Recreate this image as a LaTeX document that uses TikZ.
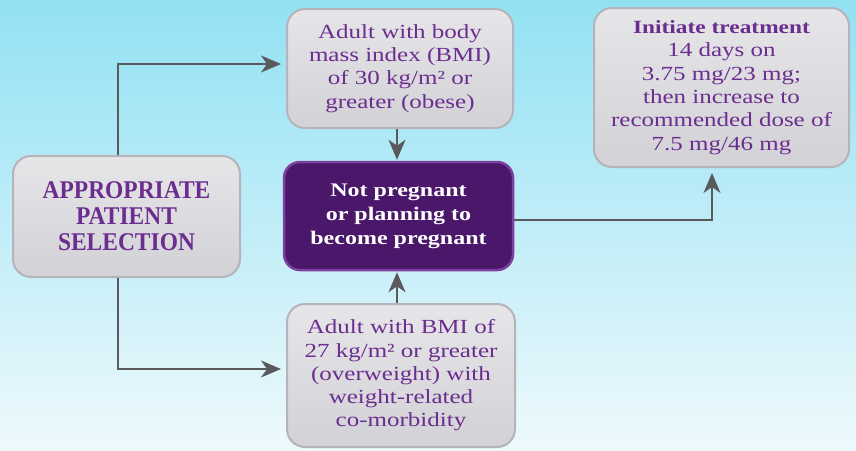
\documentclass[tikz,border=0pt]{standalone}
\usepackage{fontspec}
\setmainfont[FakeStretch=1.25]{Liberation Serif}
\newfontfamily\capsfont[FakeStretch=0.92]{Liberation Serif}
\usetikzlibrary{arrows.meta}
\definecolor{bgtop}{HTML}{92E1F3}
\definecolor{bgbot}{HTML}{EEF9FC}
\definecolor{txtpurple}{HTML}{6B2D8F}
\definecolor{boxborder}{HTML}{B4B4BA}
\definecolor{boxtop}{HTML}{E6E6E9}
\definecolor{boxbot}{HTML}{D2D2D6}
\definecolor{darkfill}{HTML}{4A176B}
\definecolor{darkborder}{HTML}{7D3FA0}
\definecolor{arrowgray}{HTML}{5A5A5C}
\tikzset{
  graybox/.style={draw=boxborder, line width=2pt, rounded corners=18pt,
    top color=boxtop, bottom color=boxbot, text=txtpurple, align=center,
    inner sep=0pt, font=\fontsize{20}{23.3}\selectfont},
  darkbox/.style={draw=darkborder, line width=2.5pt, rounded corners=16pt,
    fill=darkfill, text=white, align=center, inner sep=0pt,
    font=\fontsize{19.2}{24}\selectfont\bfseries},
  conn/.style={draw=arrowgray, line width=2pt,
    -{Stealth[length=20pt,width=17pt,inset=6pt]}}
}
\begin{document}
\begin{tikzpicture}[x=1pt,y=-1pt]
\shade[top color=bgtop, bottom color=bgbot] (0,0) rectangle (856,450);
\useasboundingbox (0,0) rectangle (856,450);

\node[graybox, minimum width=226pt, minimum height=119pt] (obese) at (400,68.5)
  {Adult with body\\mass index (BMI)\\of 30 kg/m² or\\greater (obese)};
\node[graybox, minimum width=227pt, minimum height=121pt,
  font=\capsfont\fontsize{25.5}{26}\selectfont\bfseries] (sel) at (126.5,216.5)
  {APPROPRIATE\\PATIENT\\SELECTION};
\node[darkbox, minimum width=229pt, minimum height=108pt] (preg) at (398.5,216)
  {Not pregnant\\or planning to\\become pregnant};
\node[graybox, minimum width=255pt, minimum height=159pt] (init) at (721.5,87.5)
  {{\fontsize{18.7}{23.3}\selectfont\bfseries Initiate treatment}\\14 days on\\3.75 mg/23 mg;\\then increase to\\recommended dose of\\7.5 mg/46 mg};
\node[graybox, minimum width=228pt, minimum height=143pt] (over) at (401,375.5)
  {Adult with BMI of\\27 kg/m² or greater\\(overweight) with\\weight-related\\co-morbidity};

\draw[conn, shorten >=5pt] (sel.north -| 118,0) |- (obese.west |- 0,64);
\draw[conn, shorten >=5pt] (sel.south -| 118,0) |- (over.west |- 0,369);
\draw[conn, shorten >=1pt] (obese.south -| 397,0) -- (preg.north -| 397,0);
\draw[conn, shorten >=1pt] (over.north -| 397,0) -- (preg.south -| 397,0);
\draw[conn, shorten >=5pt] (preg.east |- 0,220) -| (init.south -| 712,0);
\end{tikzpicture}
\end{document}
